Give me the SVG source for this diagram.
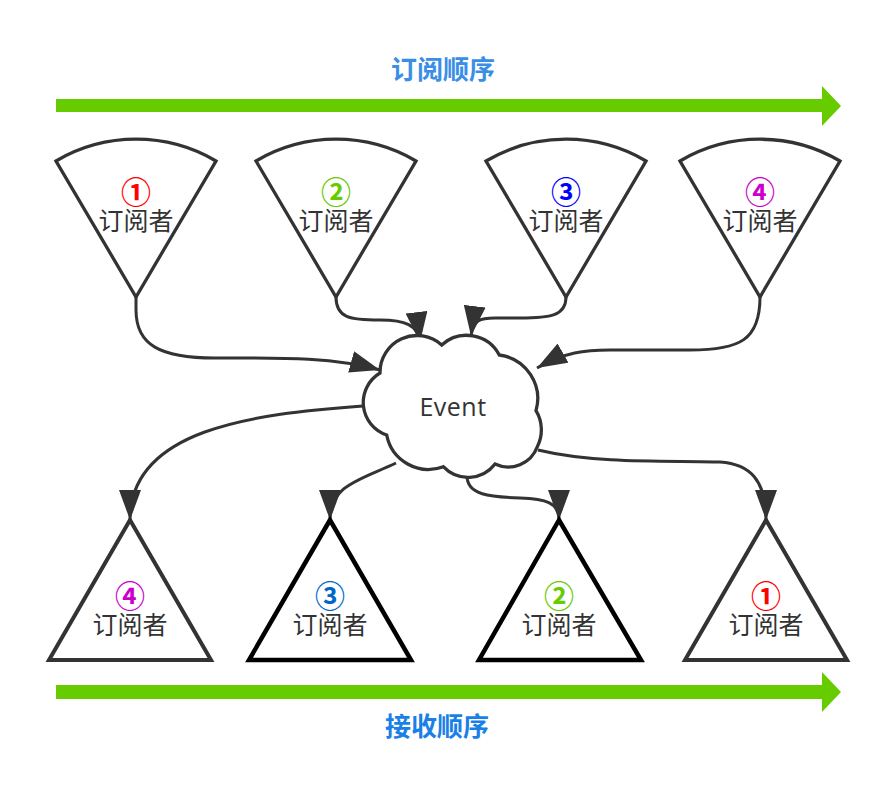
<svg xmlns="http://www.w3.org/2000/svg" width="896" height="794" viewBox="0 0 896 794">
<style>
.shape{fill:#fff;stroke:#333;stroke-width:3.3;stroke-linejoin:miter}
.tri{fill:#fff;stroke:#333;stroke-width:4}
.tri.dark{stroke:#000;stroke-width:4.5}
.lbl{font-family:"Noto Sans CJK SC","Noto Sans",sans-serif;font-size:25px;fill:#333;text-anchor:middle}
.num{font-family:"Noto Sans CJK SC","Noto Sans",sans-serif;font-size:30px;font-weight:700;text-anchor:middle}
.title{font-family:"Noto Sans CJK SC",sans-serif;font-size:26px;font-weight:700;text-anchor:middle}
.conn{fill:none;stroke:#333;stroke-width:3}
.green{fill:#66cc00}
</style>
<defs>
<marker id="ah" markerUnits="userSpaceOnUse" viewBox="0 0 30 22" markerWidth="30" markerHeight="22" refX="30" refY="11" orient="auto">
<path d="M0,0 L30,11 L0,22 Z" fill="#333"/>
</marker>
</defs>
<rect width="896" height="794" fill="#fff"/>

<g id="sub-order">
<text class="title" x="443" y="79" fill="#3a8ee6">订阅顺序</text>
<path class="green" d="M56,99 L822,99 L822,86 L841,106 L822,126 L822,112 L56,112 Z"/>
</g>

<g id="recv-order">
<path class="green" d="M56,685 L822,685 L822,672 L841,692 L822,712 L822,699 L56,699 Z"/>
<text class="title" x="437" y="736" fill="#1a7fe6">接收顺序</text>
</g>

<g id="connectors">
<path class="conn" marker-end="url(#ah)" d="M136,297 L136,310 C136,345 160,358 215,358 C270,358 330,356 380,370"/>
<path class="conn" marker-end="url(#ah)" d="M336,297 C336,318 350,320 380,320 C405,320 418,325 420,342"/>
<path class="conn" marker-end="url(#ah)" d="M566,297 C566,316 550,318 520,318 L495,318 C480,318 473,320 471,336"/>
<path class="conn" marker-end="url(#ah)" d="M760,297 C760,340 740,350 690,350 L610,350 C585,350 565,352 537,368"/>
<path class="conn" marker-end="url(#ah)" d="M363,406 C250,414 130,430 130,520"/>
<path class="conn" marker-end="url(#ah)" d="M396,463 C360,480 330,485 330,520"/>
<path class="conn" marker-end="url(#ah)" d="M467,476 C467,495 490,497 520,498 C545,499 559,502 559,520"/>
<path class="conn" marker-end="url(#ah)" d="M538,450 C600,465 680,460 720,462 C750,464 766,480 766,520"/>
</g>

<g id="event">
<path class="shape" d="M380,373 A37,37 0 0 1 441.7,345 A37,37 0 0 1 499.3,355 A44,44 0 0 1 536,410.7 A37,37 0 0 1 537.3,446.7 A31,31 0 0 1 495,464 A34,34 0 0 1 443.3,466.7 A42.5,42.5 0 0 1 386.7,435 A34.3,34.3 0 0 1 380,373 Z"/>
<text x="453" y="416" font-family="'Open Sans','Noto Sans',sans-serif" font-size="25" fill="#333" text-anchor="middle" letter-spacing="0.5">Event</text>
</g>

<g id="sub1">
<path class="shape" d="M56,161 A157.8,157.8 0 0 1 216,161 L136,297 Z"/>
<text class="num" x="136" y="202.5" fill="#ff0000">①</text>
<text class="lbl" x="136" y="230">订阅者</text>
</g>
<g id="sub2">
<path class="shape" d="M256,161 A157.8,157.8 0 0 1 416,161 L336,297 Z"/>
<text class="num" x="336" y="202.5" fill="#66cc00">②</text>
<text class="lbl" x="336" y="230">订阅者</text>
</g>
<g id="sub3">
<path class="shape" d="M486,161 A157.8,157.8 0 0 1 646,161 L566,297 Z"/>
<text class="num" x="566" y="202.5" fill="#0000ff">③</text>
<text class="lbl" x="566" y="230">订阅者</text>
</g>
<g id="sub4">
<path class="shape" d="M680,161 A157.8,157.8 0 0 1 840,161 L760,297 Z"/>
<text class="num" x="760" y="202.5" fill="#cc00cc">④</text>
<text class="lbl" x="760" y="230">订阅者</text>
</g>

<g id="recv4">
<path class="tri" d="M130,520 L49,660 L211,660 Z"/>
<text class="num" x="130" y="606.5" fill="#cc00cc">④</text>
<text class="lbl" x="130" y="634">订阅者</text>
</g>
<g id="recv3">
<path class="tri dark" d="M330,520 L249,660 L411,660 Z"/>
<text class="num" x="330" y="606.5" fill="#0066cc">③</text>
<text class="lbl" x="330" y="634">订阅者</text>
</g>
<g id="recv2">
<path class="tri dark" d="M559,520 L479,660 L641,660 Z"/>
<text class="num" x="559" y="606.5" fill="#66cc00">②</text>
<text class="lbl" x="559" y="634">订阅者</text>
</g>
<g id="recv1">
<path class="tri" d="M766,520 L685,660 L847,660 Z"/>
<text class="num" x="766" y="606.5" fill="#ff0000">①</text>
<text class="lbl" x="766" y="634">订阅者</text>
</g>
</svg>
